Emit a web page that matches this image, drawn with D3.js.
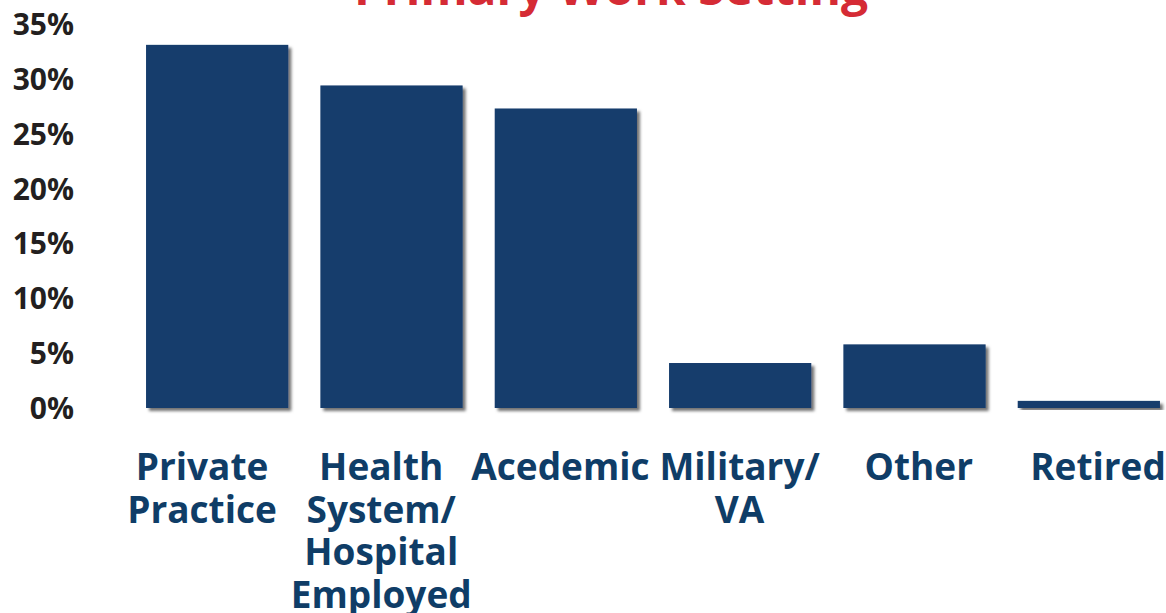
<!DOCTYPE html>
<html>
<head>
<meta charset="utf-8">
<script src="https://cdn.jsdelivr.net/npm/d3@7"></script>
<style>
  body { margin: 0; background: #fff; }
  svg { display: block; font-family: "Open Sans", sans-serif; font-weight: 700; }
</style>
</head>
<body>
<script>
// Data (percent of respondents)
const categories = ["Private Practice", "Health System/ Hospital Employed", "Acedemic", "Military/ VA", "Other", "Retired"];
const labelLines = [["Private", "Practice"], ["Health", "System/", "Hospital", "Employed"], ["Acedemic"], ["Military/", "VA"], ["Other"], ["Retired"]];
const values = [33.1, 29.4, 27.3, 4.1, 5.8, 0.65];
const yTicks = [0, 5, 10, 15, 20, 25, 30, 35];

const width = 1166, height = 613;
const barColor = "#173c6c";
const labelColor = "#0f3d67";

const svg = d3.select("body").append("svg")
  .attr("width", width)
  .attr("height", height);

const defs = svg.append("defs");
defs.append("filter")
  .attr("id", "shadow")
  .attr("x", "-10%").attr("y", "-10%")
  .attr("width", "130%").attr("height", "130%")
  .append("feDropShadow")
  .attr("dx", 3).attr("dy", 3)
  .attr("stdDeviation", 1.8)
  .attr("flood-color", "#000")
  .attr("flood-opacity", 0.55);

const x = d3.scaleBand()
  .domain(categories)
  .range([130, 1176])
  .paddingInner(0.184)
  .paddingOuter(0.092);

// labels sit on their own grid, a bit off the bar centers
const xl = d3.scalePoint()
  .domain(categories)
  .range([202, 1098]);

const y = d3.scaleLinear()
  .domain([0, 35])
  .range([408, 24]);

// title (cut off at top in the original)
svg.append("text")
  .attr("x", 611)
  .attr("y", 5)
  .attr("text-anchor", "middle")
  .attr("fill", "#d52b35")
  .attr("font-size", 48)
  .text("Primary Work Setting");

// y axis labels
const yAxis = d3.axisLeft(y)
  .tickValues(yTicks)
  .tickFormat(d => d + "%")
  .tickSize(0)
  .tickPadding(0);

svg.append("g")
  .attr("transform", "translate(74,0)")
  .call(yAxis)
  .call(g => g.select(".domain").remove())
  .call(g => g.selectAll("text")
    .attr("fill", "#231f20")
    .attr("font-size", 30)
    .attr("font-family", "Open Sans, sans-serif")
    .attr("font-weight", 700)
    .attr("dy", "0.35em"));

// bars
svg.append("g")
  .selectAll("rect")
  .data(values)
  .join("rect")
  .attr("x", (d, i) => x(categories[i]))
  .attr("y", d => y(d))
  .attr("width", x.bandwidth())
  .attr("height", d => y(0) - y(d))
  .attr("fill", barColor)
  .attr("filter", "url(#shadow)");

// category labels
const lbl = svg.append("g")
  .selectAll("text")
  .data(categories)
  .join("text")
  .attr("x", d => xl(d))
  .attr("y", 480)
  .attr("text-anchor", "middle")
  .attr("fill", labelColor)
  .attr("font-size", 37);

lbl.selectAll("tspan")
  .data((d, i) => labelLines[i].map(t => ({ t, x: xl(d) })))
  .join("tspan")
  .attr("x", d => d.x)
  .attr("dy", (d, i) => i === 0 ? 0 : 42.5)
  .text(d => d.t);
</script>
</body>
</html>
